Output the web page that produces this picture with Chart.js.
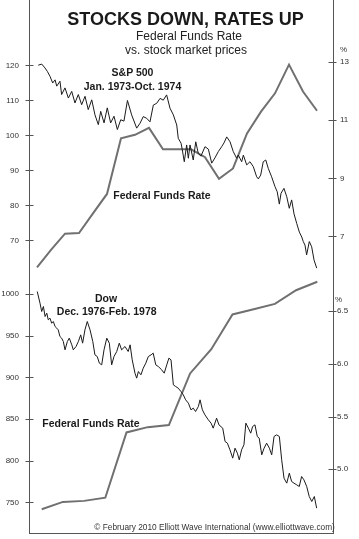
<!DOCTYPE html>
<html><head><meta charset="utf-8">
<script src="https://cdn.jsdelivr.net/npm/chart.js@4"></script>
<style>
html,body{margin:0;padding:0;background:#fff;width:359px;height:539px;overflow:hidden;}
#wrap{position:relative;width:359px;height:539px;font-family:"Liberation Sans",Arial,Helvetica,sans-serif;color:#1a1a1a;}
canvas{position:absolute;left:0;}
#c1{top:0}
#c2{top:270px}
#frame{position:absolute;left:29px;top:-2px;width:305px;height:536px;box-sizing:border-box;border:1px solid #555;border-top:none;}
.t{position:absolute;white-space:nowrap;line-height:1;}
</style></head>
<body><div id="wrap"><div id="frame"></div><canvas id="c1" width="359" height="280"></canvas><canvas id="c2" width="359" height="269"></canvas></div>
<script>
// ---------- DATA ----------
// S&P 500, Jan 1973 - Oct 1974 (x = months since Jan 1973)
const spxMonths = [0.09,0.34,0.57,0.74,0.93,1.12,1.29,1.41,1.64,1.76,
2.00,2.24,2.48,2.71,2.95,3.19,3.43,3.66,3.91,4.14,
4.38,4.55,4.79,5.02,5.26,5.50,5.74,5.98,6.21,6.46,
6.76,7.12,7.36,7.59,7.84,8.07,8.31,8.55,8.79,9.02,
9.26,9.50,9.74,9.98,10.09,10.29,10.38,10.52,10.69,10.81,
10.93,11.16,11.34,11.52,11.71,12.00,12.24,12.48,12.71,12.95,
13.19,13.36,13.55,13.79,14.02,14.26,14.38,14.62,14.74,14.98,
15.21,15.45,15.69,15.81,15.98,16.16,16.34,16.52,16.76,17.00,
17.16,17.31,17.43,17.64,17.84,18.02,18.19,18.36,18.55,18.74,
18.91,19.02,19.14,19.26,19.45,19.62,19.79,19.98];
const spxValues = [120.1,120.4,119.3,118.3,116.9,115.0,115.9,114.1,115.5,111.7,
113.6,110.7,112.6,109.3,111.7,108.8,111.2,107.4,110.2,105.9,
103.1,106.9,103.6,107.9,103.6,105.5,101.7,104.5,104.1,110.0,
105.9,102.1,103.5,105.4,104.9,103.9,108.7,109.2,110.6,110.1,
111.6,107.8,105.9,103.0,99.2,97.8,95.9,92.5,97.3,93.5,
97.3,93.0,98.2,94.9,94.1,96.8,96.1,92.1,93.6,95.4,
96.8,97.9,99.6,98.2,95.4,93.5,94.4,92.5,94.4,91.6,
92.5,91.1,88.2,87.6,88.7,92.5,93.0,90.6,88.2,85.4,
83.9,80.4,83.5,84.9,82.5,79.2,81.6,77.6,74.9,72.4,
71.0,69.7,68.7,65.9,69.7,68.2,64.4,62.1];
// Federal Funds Rate, monthly Jan 1973 - Sep 1974
const fedRate7374 = [5.93,6.53,7.09,7.11,7.79,8.46,10.38,10.50,10.74,10.00,10.00,10.00,9.73,8.98,9.34,10.55,11.30,11.93,12.92,11.99,11.33];

// Dow, Dec 1976 - Feb 1978 (x = months since Jan 1977)
const dowMonths = [-0.21,-0.08,0.00,0.08,0.16,0.24,0.31,0.39,0.47,0.55,
0.63,0.71,0.78,0.86,0.94,1.02,1.10,1.21,1.30,1.42,
1.49,1.62,1.73,1.84,1.93,2.04,2.15,2.28,2.41,2.51,
2.62,2.72,2.83,2.94,3.07,3.19,3.30,3.41,3.54,3.66,
3.77,3.93,4.08,4.17,4.27,4.40,4.48,4.56,4.68,4.79,
4.91,5.03,5.16,5.26,5.38,5.50,5.66,5.78,5.90,6.00,
6.10,6.21,6.32,6.44,6.57,6.68,6.79,6.92,7.04,7.15,
7.26,7.39,7.47,7.58,7.70,7.86,7.99,8.09,8.25,8.36,
8.54,8.65,8.76,8.88,9.01,9.12,9.23,9.32,9.43,9.54,
9.63,9.75,9.86,9.95,10.06,10.17,10.26,10.38,10.49,10.61,
10.74,10.85,10.96,11.08,11.21,11.32,11.43,11.56,11.68,11.79,
11.90,12.03,12.15,12.26,12.37,12.50,12.62,12.74,12.86,12.97];
const dowValues = [1003,989,979,985,973,977,969,971,965,967,
961,959,957,949,947,943,933,943,947,939,
933,937,943,951,941,957,967,957,943,927,
925,917,915,933,947,941,915,925,931,941,
933,937,931,939,921,905,899,907,903,911,
917,925,927,929,915,913,909,905,915,923,
921,891,889,887,883,879,873,869,861,863,
859,865,873,861,855,849,845,839,851,843,
839,823,821,813,803,815,809,801,813,819,
845,839,833,841,843,829,827,807,815,821,
815,807,829,831,829,801,779,773,785,775,
773,771,769,781,777,769,757,751,757,743];
// Federal Funds Rate, monthly Jan 1977 - Feb 1978
const fedRate7778 = [4.62,4.69,4.70,4.73,5.35,5.40,5.42,5.91,6.14,6.47,6.52,6.57,6.70,6.78];

// Tick labels
const spxTicks = [70,80,90,100,110,120];
const fedTicks1 = [7,9,11,13];
const dowTicks = [750,800,850,900,950,1000];
const fedTicks2 = [5.0,5.5,6.0,6.5];

// ---------- STYLE ----------
const FONT = '"Liberation Sans", Arial, Helvetica, sans-serif';
Chart.defaults.font.family = FONT;
const AXIS = '#555';
const STOCK = '#1a1a1a';
const FED = '#707070';

const tickMarks = {
  id:'tickMarks',
  afterDraw(chart){
    const ctx = chart.ctx; ctx.save();
    ctx.strokeStyle = AXIS; ctx.lineWidth = 1;
    ['yL','yR'].forEach(id=>{
      const s = chart.scales[id];
      const ax = (id==='yL' ? chart.chartArea.left : chart.chartArea.right - 1) + 0.5;
      s.ticks.forEach(t=>{
        const y = Math.round(s.getPixelForValue(t.value)) + 0.5;
        ctx.beginPath(); ctx.moveTo(ax-4,y); ctx.lineTo(ax+4,y); ctx.stroke();
      });
    });
    ctx.restore();
  }
};

function yScale(pos, min, max, ticks, width, pad, fmt){
  return {
    position: pos, min, max,
    grid:{display:false, drawTicks:false},
    border:{display:false},
    ticks:{padding:pad, color:'#333', font:{size:8, family:FONT}, callback: fmt},
    afterBuildTicks: s => { s.ticks = ticks.map(v=>({value:v})); },
    afterFit: s => { s.width = width; s.paddingTop = 0; s.paddingBottom = 0; }
  };
}

function makeChart(id, padTop, padBottom, xMin, xMax, stockPts, fedPts, yl, yr){
  return new Chart(document.getElementById(id), {
    type:'line',
    data:{datasets:[
      {data: stockPts, yAxisID:'yL', borderColor:STOCK, borderWidth:1, pointRadius:0, tension:0},
      {data: fedPts, yAxisID:'yR', borderColor:FED, borderWidth:2, pointRadius:0, tension:0}
    ]},
    options:{
      responsive:false, animation:false, devicePixelRatio:1,
      layout:{padding:{top:padTop, bottom:padBottom, left:0, right:0}},
      plugins:{legend:{display:false}, tooltip:{enabled:false}},
      scales:{
        x:{type:'linear', display:false, min:xMin, max:xMax},
        yL: yl, yR: yr
      }
    },
    plugins:[tickMarks]
  });
}

makeChart('c1', 56, 10, -0.5714, 21.143,
  spxMonths.map((m,i)=>({x:m, y:spxValues[i]})),
  fedRate7374.map((v,i)=>({x:i, y:v})),
  yScale('left', 61.571, 122.714, spxTicks, 29, 10, v=>String(v)),
  yScale('right', 5.838, 13.217, fedTicks1, 26, 7, v=>String(v)));

makeChart('c2', 8, 6, -0.599, 13.741,
  dowMonths.map((m,i)=>({x:m, y:dowValues[i]})),
  fedRate7778.map((v,i)=>({x:i, y:v})),
  yScale('left', 713.2, 1019.2, dowTicks, 29, 10, v=>String(v)),
  yScale('right', 4.395, 6.816, fedTicks2, 26, 4, v=>Number(v).toFixed(1)));

// ---------- TEXT ----------
const wrap = document.getElementById('wrap');
function addText(txt, x, baseline, size, weight, align, color){
  const d = document.createElement('div'); d.className='t'; d.textContent = txt;
  d.style.fontSize = size+'px'; d.style.fontWeight = weight; d.style.color = color || '#1a1a1a';
  d.style.top = (baseline - 0.8465*size) + 'px';
  if (align === 'center'){ d.style.left = (x-200)+'px'; d.style.width='400px'; d.style.textAlign='center'; }
  else d.style.left = x+'px';
  wrap.appendChild(d);
}
addText('STOCKS DOWN, RATES UP', 185.5, 25, 18, 'bold', 'center');
addText('Federal Funds Rate', 189, 40, 12, 'normal', 'center', '#222');
addText('vs. stock market prices', 186, 54, 12, 'normal', 'center', '#222');
addText('%', 340, 53, 8, 'normal', 'left', '#333');
addText('%', 335, 302.5, 8, 'normal', 'left', '#333');
addText('S&P 500', 132.5, 76, 10.5, 'bold', 'center');
addText('Jan. 1973-Oct. 1974', 132.5, 89.5, 10.5, 'bold', 'center');
addText('Federal Funds Rate', 162, 199, 10.5, 'bold', 'center');
addText('Dow', 106, 301.5, 10.5, 'bold', 'center');
addText('Dec. 1976-Feb. 1978', 106.7, 315, 10.5, 'bold', 'center');
addText('Federal Funds Rate', 91, 426.5, 10.5, 'bold', 'center');
addText('\u00A9 February 2010 Elliott Wave International (www.elliottwave.com)', 94.3, 530, 8.3, 'normal', 'left', '#333');
</script>
</body></html>
